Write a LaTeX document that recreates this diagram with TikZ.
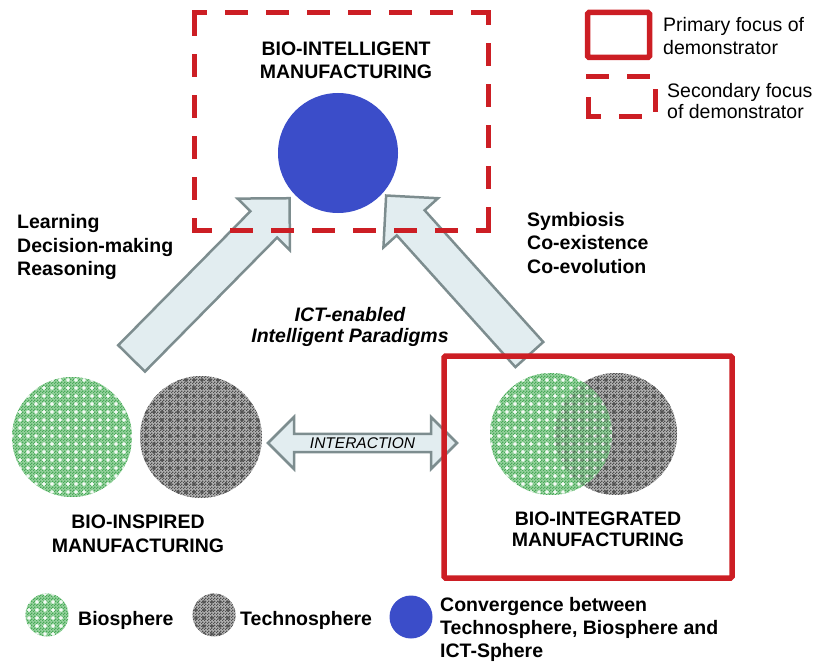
\documentclass[tikz,border=0pt]{standalone}
\usepackage{fontspec}
\setmainfont{Liberation Sans}
\usetikzlibrary{shapes.arrows,patterns}

% fine checker mesh used inside the sphere discs
\pgfdeclarepatternformonly{finechk}{\pgfqpoint{0pt}{0pt}}{\pgfqpoint{3pt}{3pt}}{\pgfqpoint{3pt}{3pt}}{%
  \pgfpathrectangle{\pgfqpoint{0pt}{0pt}}{\pgfqpoint{1.5pt}{1.5pt}}%
  \pgfpathrectangle{\pgfqpoint{1.5pt}{1.5pt}}{\pgfqpoint{1.5pt}{1.5pt}}%
  \pgfusepath{fill}}
% regular grid of small plus signs
\pgfdeclarepatternformonly{plusgrid}{\pgfqpoint{0pt}{0pt}}{\pgfqpoint{8.4pt}{8.4pt}}{\pgfqpoint{8.4pt}{8.4pt}}{%
  \pgfpathrectangle{\pgfqpoint{2.2pt}{3.6pt}}{\pgfqpoint{4pt}{1.2pt}}%
  \pgfpathrectangle{\pgfqpoint{3.6pt}{2.2pt}}{\pgfqpoint{1.2pt}{4pt}}%
  \pgfusepath{fill}}

\definecolor{biobase}{RGB}{150,210,158}
\definecolor{biogreen}{RGB}{72,170,88}
\definecolor{techbase}{RGB}{178,178,178}
\definecolor{techdark}{RGB}{78,78,78}
\definecolor{convblue}{RGB}{59,77,201}
\definecolor{focusred}{RGB}{204,30,36}
\definecolor{arrowfill}{RGB}{226,237,240}
\definecolor{arrowline}{RGB}{125,141,143}

\begin{document}
\begin{tikzpicture}[x=1pt,y=-1pt,
  bio/.style={circle, inner sep=0, minimum size=#1, fill=biobase,
    postaction={pattern=finechk, pattern color=biogreen},
    postaction={pattern=plusgrid, pattern color=white}},
  tech/.style={circle, inner sep=0, minimum size=#1, fill=techbase,
    postaction={pattern=finechk, pattern color=techdark},
    postaction={pattern=plusgrid, pattern color=techdark}},
  conv/.style={circle, inner sep=0, minimum size=#1, fill=convblue},
  boldtxt/.style={font=\fontsize{19.5}{#1}\selectfont\bfseries, inner sep=0},
  boldtxt/.default=23.5,
  plaintxt/.style={font=\fontsize{19.5}{#1}\selectfont, inner sep=0},
  plaintxt/.default=23,
  bigarrow/.style={single arrow, draw=arrowline, fill=arrowfill, line width=2.5pt,
    single arrow head extend=18pt, single arrow tip angle=90,
    inner xsep=0pt, inner ysep=17.5pt},
  reddash/.style={draw=focusred, line width=5pt, line cap=rect,
    dash pattern=on 18pt off 23pt, dash phase=8pt},
  redsolid/.style={draw=focusred, line width=5.5pt, rounded corners=1.5pt}]

\useasboundingbox (0,0) rectangle (813,663);

% ---- spheres ----
\node[bio=120pt]  (bioL)  at (72,437) {};
\node[tech=122pt] (techL) at (201,437) {};

\node[tech=122pt] (techR) at (616,434) {};
\node[bio=122pt]  (bioR)  at (551,434) {};
\begin{scope}
  \clip (bioR.center) circle (61);
  \fill[pattern=finechk, pattern color=techdark, opacity=0.45] (techR.center) circle (61);
  \fill[pattern=plusgrid, pattern color=techdark, opacity=0.45] (techR.center) circle (61);
\end{scope}

\node[conv=120pt] (convC) at (338,153) {};

% ---- titles ----
\node[boldtxt=23, align=center, anchor=north] (intelTxt) at (346,42) {BIO-INTELLIGENT\\MANUFACTURING};
\node[boldtxt=24, align=center, anchor=north] (inspTxt) at (138,515) {BIO-INSPIRED\\MANUFACTURING};
\node[boldtxt=21, align=center, anchor=north] (integTxt) at (598,512) {BIO-INTEGRATED\\MANUFACTURING};

\node[boldtxt=23.7, align=left, anchor=north west] (learnTxt) at (17,214) {Learning\\Decision-making\\Reasoning};
\node[boldtxt=23.5, align=left, anchor=north west] (symTxt) at (527,212) {Symbiosis\\Co-existence\\Co-evolution};
\node[boldtxt=21, align=center, anchor=north, font=\fontsize{19.5}{21}\selectfont\bfseries\itshape] (ictTxt) at (350,307) {ICT-enabled\\Intelligent Paradigms};

% ---- block arrows ----
\node[bigarrow, rotate=45.4, minimum height=225pt] (learnArrow) at (204,285) {};
\node[bigarrow, rotate=132, minimum height=214pt] (symArrow) at (464,282) {};
\node[double arrow, draw=arrowline, fill=arrowfill, line width=2.5pt,
      minimum width=52pt, double arrow head extend=12.5pt, minimum height=189pt,
      inner sep=0, font=\fontsize{15.5}{18}\selectfont\itshape] (interArrow) at (362.5,443) {INTERACTION};

% ---- focus frames ----
\node[minimum width=293pt, minimum height=217pt, inner sep=0] (secBox) at (341.5,121.5) {};
\draw[reddash] (secBox.south west) -- (secBox.north west);
\draw[reddash] (secBox.north west) -- (secBox.north east);
\draw[reddash] (secBox.north east) -- (secBox.south east);
\draw[reddash] (secBox.south east) -- (secBox.south west);

\node[redsolid, minimum width=288pt, minimum height=222pt, inner sep=0] (primBox) at (588,467) {};

% ---- legend: focus frames ----
\node[redsolid, minimum width=62pt, minimum height=45pt, inner sep=0] (legPrim) at (618.5,35) {};
\node[plaintxt=23, align=left, anchor=north west] (legPrimTxt) at (663,17) {Primary focus of\\demonstrator};
\node[reddash, minimum width=67pt, minimum height=40pt, inner sep=0] (legSec) at (621.5,97) {};
\node[plaintxt=21.5, align=left, anchor=north west] (legSecTxt) at (667,83) {Secondary focus\\of demonstrator};

% ---- legend: spheres ----
\node[bio=43pt]  (legBio)  at (47,615) {};
\node[boldtxt, anchor=base west] (legBioTxt) at (78,625) {Biosphere};
\node[tech=43pt] (legTech) at (214,615) {};
\node[boldtxt, anchor=base west] (legTechTxt) at (240,625) {Technosphere};
\node[conv=43pt] (legConv) at (411,617) {};
\node[boldtxt=23, align=left, anchor=north west] (legConvTxt) at (440,597) {Convergence between\\Technosphere, Biosphere and\\ICT-Sphere};

\end{tikzpicture}
\end{document}
